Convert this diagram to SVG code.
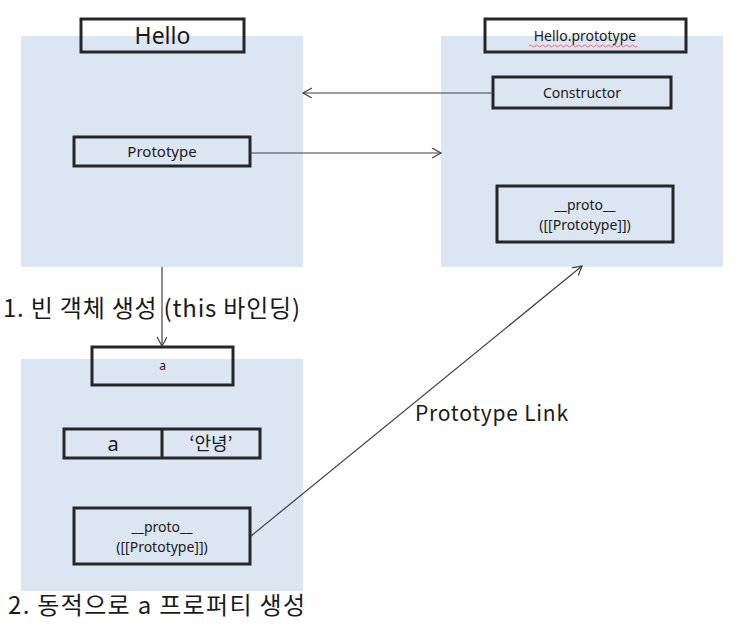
<svg xmlns="http://www.w3.org/2000/svg" width="743" height="628" viewBox="0 0 743 628">
<style>
.panel{fill:#dce6f2}
.box{fill:none;stroke:#262626;stroke-width:3}
.t{font-family:"Noto Sans","Noto Sans CJK KR",sans-serif;fill:#1a1a1a;text-anchor:middle}
.k{font-family:"Noto Sans CJK KR","Noto Sans",sans-serif;fill:#1a1a1a}
.c{fill:none;stroke:#404040;stroke-width:1.2}
</style>
<defs>
<marker id="arr" markerWidth="12" markerHeight="12" refX="10" refY="5" orient="auto" markerUnits="userSpaceOnUse">
<path d="M1,0 L10,5 L1,10" fill="none" stroke="#404040" stroke-width="1.2"/>
</marker>
</defs>
<rect x="0" y="0" width="743" height="628" fill="#fff"/>
<g id="panels">
<rect class="panel" x="21" y="36" width="282" height="231"/>
<rect class="panel" x="441" y="36" width="282" height="231"/>
<rect class="panel" x="21" y="359" width="282" height="232"/>
</g>
<g id="hello">
<rect class="box" x="81" y="19" width="163" height="33"/>
<text class="t" x="162.5" y="44" font-size="23">Hello</text>
</g>
<g id="hello-prototype-prop">
<rect class="box" x="74" y="137" width="176" height="29"/>
<text class="t" x="162" y="157" font-size="15">Prototype</text>
</g>
<g id="hello-prototype-obj">
<rect class="box" x="485" y="19" width="201" height="33"/>
<text class="t" x="585" y="41" font-size="14">Hello.prototype</text>
<path d="M529,46 q1.5,-2 3,0 t3,0 t3,0 t3,0 t3,0 t3,0 t3,0 t3,0 t3,0 t3,0 t3,0 t3,0 t3,0 t3,0 t3,0 t3,0 t3,0 t3,0 t3,0 t3,0 t3,0 t3,0 t3,0 t3,0 t3,0 t3,0 t3,0 t3,0 t3,0 t3,0 t3,0 t3,0 t3,0 t3,0 t3,0 t3,0" fill="none" stroke="#e05050" stroke-width="0.8"/>
</g>
<g id="constructor">
<rect class="box" x="493" y="77" width="178" height="31"/>
<text class="t" x="582" y="98" font-size="14">Constructor</text>
</g>
<g id="proto-top">
<rect class="box" x="497" y="186" width="176" height="56"/>
<text class="t" x="585" y="210" font-size="14">__proto__</text>
<text class="t" x="585" y="230" font-size="14">([[Prototype]])</text>
</g>
<g id="a-obj">
<rect class="box" x="92" y="347" width="141" height="38"/>
<text class="t" x="162.5" y="370" font-size="12">a</text>
</g>
<g id="a-prop">
<rect class="box" x="64" y="429" width="196" height="29"/>
<line x1="162" y1="429" x2="162" y2="458" stroke="#262626" stroke-width="3"/>
<text class="t" x="113" y="451" font-size="20">a</text>
<text class="k" x="211" y="450" font-size="18" text-anchor="middle">‘안녕’</text>
</g>
<g id="proto-bottom">
<rect class="box" x="74" y="508" width="176" height="56"/>
<text class="t" x="162" y="532" font-size="14">__proto__</text>
<text class="t" x="162" y="552" font-size="14">([[Prototype]])</text>
</g>
<g id="connectors">
<line class="c" x1="493" y1="93" x2="303" y2="93" marker-end="url(#arr)"/>
<line class="c" x1="250" y1="153" x2="441" y2="153" marker-end="url(#arr)"/>
<line class="c" x1="162" y1="267" x2="162" y2="346" marker-end="url(#arr)"/>
<line class="c" x1="251" y1="536" x2="582" y2="266" marker-end="url(#arr)"/>
</g>
<g id="labels">
<text class="k" x="3" y="317" font-size="24" textLength="297" lengthAdjust="spacing">1. 빈 객체 생성 (this 바인딩)</text>
<text class="k" x="8" y="614" font-size="24" textLength="297" lengthAdjust="spacing">2. 동적으로 a 프로퍼티 생성</text>
<text class="k" x="415" y="421" font-size="21" textLength="153" lengthAdjust="spacing">Prototype Link</text>
</g>
</svg>
